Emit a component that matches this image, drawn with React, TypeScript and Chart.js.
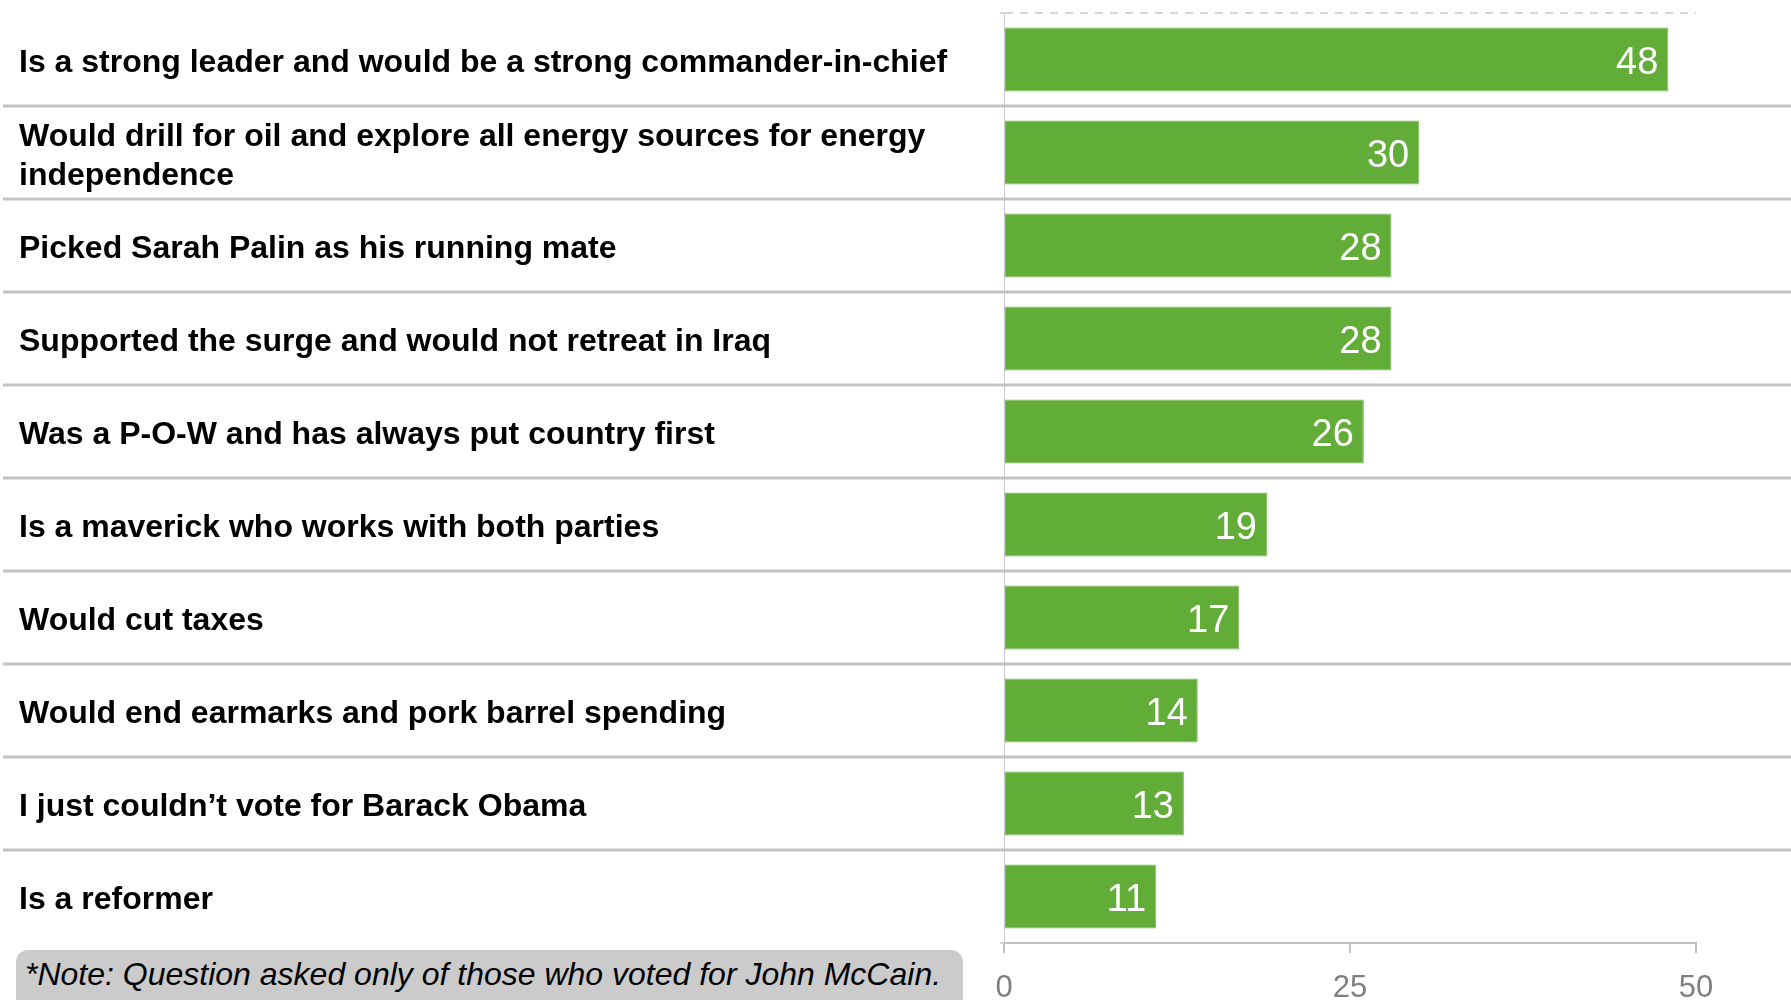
import React, { useEffect, useRef } from 'react';
import { Chart, registerables } from 'chart.js';

Chart.register(...registerables);

const categories: (string | string[])[] = [
  'Is a strong leader and would be a strong commander-in-chief',
  ['Would drill for oil and explore all energy sources for energy', 'independence'],
  'Picked Sarah Palin as his running mate',
  'Supported the surge and would not retreat in Iraq',
  'Was a P-O-W and has always put country first',
  'Is a maverick who works with both parties',
  'Would cut taxes',
  'Would end earmarks and pork barrel spending',
  'I just couldn\u2019t vote for Barack Obama',
  'Is a reformer',
];
const values = [48, 30, 28, 28, 26, 19, 17, 14, 13, 11];
const xMin = 0;
const xMax = 50;
const xStep = 25;
const noteText = '*Note: Question asked only of those who voted for John McCain.';

const FONT = "'Liberation Sans', Arial, Helvetica, sans-serif";

const separatorPlugin = {
  id: 'rowSeparators',
  beforeDatasetsDraw(chart: any) {
    const y = chart.scales.y;
    const ctx = chart.ctx;
    ctx.save();
    ctx.strokeStyle = '#c3c3c3';
    ctx.lineWidth = 3;
    for (let i = 0; i < categories.length - 1; i++) {
      const yy = Math.round((y.getPixelForTick(i) + y.getPixelForTick(i + 1)) / 2);
      ctx.beginPath();
      ctx.moveTo(3, yy);
      ctx.lineTo(chart.width, yy);
      ctx.stroke();
    }
    ctx.restore();
  },
};

const valueLabelPlugin = {
  id: 'valueLabels',
  afterDatasetsDraw(chart: any) {
    const ctx = chart.ctx;
    const meta = chart.getDatasetMeta(0);
    ctx.save();
    ctx.fillStyle = '#ffffff';
    ctx.font = `38px ${FONT}`;
    ctx.textAlign = 'right';
    ctx.textBaseline = 'middle';
    meta.data.forEach((bar: any, i: number) => {
      ctx.fillText(String(values[i]), bar.x - 10, bar.y + 4);
    });
    ctx.restore();
  },
};

export default function App() {
  const canvasRef = useRef<HTMLCanvasElement | null>(null);

  useEffect(() => {
    document.body.style.margin = '0';
    const canvas = canvasRef.current;
    if (!canvas) return;
    const chart = new Chart(canvas, {
      type: 'bar',
      data: {
        labels: categories as any,
        datasets: [
          {
            data: values,
            backgroundColor: '#62ac38',
            borderColor: '#7dbb5a',
            borderWidth: 1,
            borderSkipped: false,
            barPercentage: 0.69,
            categoryPercentage: 1,
          },
        ],
      },
      options: {
        indexAxis: 'y',
        responsive: false,
        animation: false,
        devicePixelRatio: 1,
        layout: { padding: { top: 13, left: 19, right: 95, bottom: 0 } },
        plugins: {
          legend: { display: false },
          tooltip: { enabled: false },
          title: { display: false },
        },
        scales: {
          x: {
            type: 'linear',
            min: xMin,
            max: xMax,
            position: 'bottom',
            ticks: {
              stepSize: xStep,
              color: '#7f7f7f',
              font: { family: FONT, size: 31 },
              padding: 17,
            },
            grid: {
              drawOnChartArea: false,
              drawTicks: true,
              tickLength: 10,
              color: '#c0c0c0',
              lineWidth: 2,
            },
            border: { display: true, color: '#c0c0c0', width: 2 },
            afterFit(scale: any) {
              scale.height = 97;
              scale.paddingLeft = 0;
              scale.paddingRight = 0;
            },
          },
          y: {
            type: 'category',
            position: 'left',
            ticks: {
              autoSkip: false,
              crossAlign: 'far',
              color: '#000000',
              font: { family: FONT, size: 32, weight: 'bold' },
              padding: 0,
              labelOffset: 4,
            },
            grid: {
              offset: true,
              drawOnChartArea: true,
              drawTicks: true,
              tickLength: 4,
              color: '#d6d6d6',
              lineWidth: 2,
            },
            border: { display: true, color: '#c8c8c8', width: 1, dash: [8, 7] },
            afterFit(scale: any) {
              scale.width = 985;
              scale.paddingTop = 0;
              scale.paddingBottom = 0;
            },
          },
        },
      } as any,
      plugins: [separatorPlugin, valueLabelPlugin],
    });
    return () => chart.destroy();
  }, []);

  return (
    <div
      style={{
        position: 'fixed',
        left: 0,
        top: 0,
        width: 1791,
        height: 1000,
        overflow: 'hidden',
        background: '#ffffff',
      }}
    >
      <canvas ref={canvasRef} width={1791} height={1040} style={{ display: 'block' }} />
      <div
        style={{
          position: 'absolute',
          left: 16,
          top: 950,
          width: 947,
          height: 80,
          background: '#cbcbcb',
          borderRadius: 12,
          boxSizing: 'border-box',
          paddingTop: 6,
          paddingLeft: 9,
          fontFamily: FONT,
          fontStyle: 'italic',
          fontSize: 32,
          lineHeight: '36px',
          color: '#000',
          whiteSpace: 'nowrap',
        }}
      >
        {noteText}
      </div>
    </div>
  );
}
